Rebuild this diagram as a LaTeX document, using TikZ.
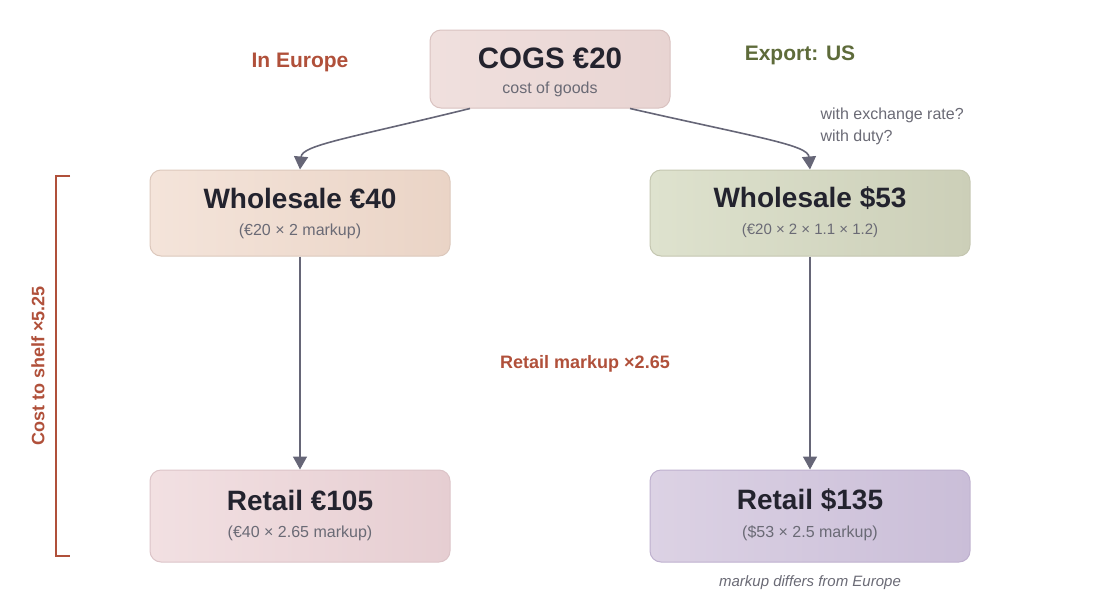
\documentclass[tikz,border=0pt]{standalone}
\usepackage{fontspec}
\setmainfont{Liberation Sans}
\usetikzlibrary{arrows.meta,calc}
\definecolor{titlec}{HTML}{23232E}
\definecolor{subc}{HTML}{6A6A75}
\definecolor{arrc}{HTML}{666677}
\definecolor{rust}{HTML}{B0503A}
\definecolor{olive}{HTML}{5E6B3A}
\tikzset{
  box/.style={rounded corners=11pt, minimum height=#1, align=center, inner sep=0pt},
  box/.default=86pt,
  conn/.style={draw=arrc, line width=1.6pt, -{Triangle[width=14pt,length=13pt]}},
  ttl/.style={font=\bfseries\fontsize{28}{30}\selectfont, text=titlec},
  sub/.style={font=\fontsize{16}{18}\selectfont, text=subc},
  lbl/.style={font=\bfseries\fontsize{21}{24}\selectfont},
  note/.style={font=\fontsize{16}{18}\selectfont, text=subc}
}
\begin{document}
\begin{tikzpicture}[x=1pt,y=-1pt]
\useasboundingbox (0,0) rectangle (1100,600);
% boxes
\node[box=78pt, minimum width=240pt, draw={rgb,255:red,217;green,194;blue,192}, line width=1pt,
  left color={rgb,255:red,240;green,224;blue,222}, right color={rgb,255:red,232;green,212;blue,210}] (cogs) at (550,69) {};
\node[box, minimum width=300pt, draw={rgb,255:red,220;green,200;blue,188}, line width=1pt,
  left color={rgb,255:red,244;green,228;blue,218}, right color={rgb,255:red,234;green,212;blue,198}] (wse) at (300,213) {};
\node[box, minimum width=320pt, draw={rgb,255:red,196;green,198;blue,176}, line width=1pt,
  left color={rgb,255:red,222;green,226;blue,206}, right color={rgb,255:red,204;green,207;blue,184}] (wsu) at (810,213) {};
\node[box=92pt, minimum width=300pt, draw={rgb,255:red,220;green,196;blue,200}, line width=1pt,
  left color={rgb,255:red,242;green,224;blue,226}, right color={rgb,255:red,230;green,206;blue,210}] (rte) at (300,516) {};
\node[box=92pt, minimum width=320pt, draw={rgb,255:red,190;green,176;blue,206}, line width=1pt,
  left color={rgb,255:red,220;green,210;blue,228}, right color={rgb,255:red,202;green,190;blue,216}] (rtu) at (810,516) {};
% texts in boxes
\node[ttl, font=\bfseries\fontsize{29.5}{31}\selectfont] (cogsT) at (550,58) {COGS €20};
\node[sub] (cogsS) at (550,89) {cost of goods};
\node[ttl] (wseT) at (300,198) {Wholesale €40};
\node[sub] (wseS) at (300,231) {(€20 × 2 markup)};
\node[ttl] (wsuT) at (810,198) {Wholesale \$53};
\node[sub, font=\fontsize{15}{18}\selectfont] (wsuS) at (810,231) {(€20 × 2 × 1.1 × 1.2)};
\node[ttl] (rteT) at (300,500) {Retail €105};
\node[sub] (rteS) at (300,533) {(€40 × 2.65 markup)};
\node[ttl] (rtuT) at (810,500) {Retail \$135};
\node[sub] (rtuS) at (810,533) {(\$53 × 2.5 markup)};
% connectors
\draw[conn] ([xshift=-80pt]cogs.south) .. controls (350,138) and (302,145) .. (wse.north);
\draw[conn] ([xshift=80pt]cogs.south) .. controls (760,138) and (808,145) .. (wsu.north);
\draw[conn] (wse.south) -- (rte.north);
\draw[conn] (wsu.south) -- (rtu.north);
% labels
\node[lbl, text=rust] (eu) at (300,62) {In Europe};
\node[lbl, text=olive] (us) at (800,55) {Export: US};
\node[note, anchor=west] (n1) at (817,115) {with exchange rate?};
\node[note, anchor=west] (n2) at (817,137) {with duty?};
\node[font=\bfseries\fontsize{18}{20}\selectfont, text=rust] (rm) at (585,364) {Retail markup ×2.65};
\node[font=\itshape\fontsize{15}{18}\selectfont, text=subc] (md) at (810,583) {markup differs from Europe};
% bracket
\coordinate (bt) at (70,176);
\coordinate (bb) at (70,556);
\draw[rust, line width=1.6pt] (bt) -- ++(-14,0) |- (bb);
\node[font=\bfseries\fontsize{18}{20}\selectfont, text=rust, rotate=90] (cs) at (38,366) {Cost to shelf ×5.25};
\end{tikzpicture}
\end{document}
